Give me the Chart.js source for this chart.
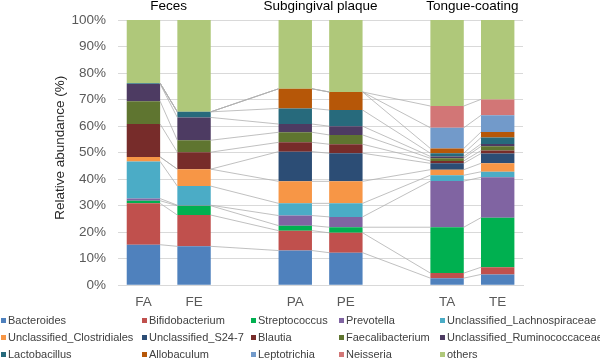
<!DOCTYPE html>
<html>
<head>
<meta charset="utf-8">
<script src="https://cdn.jsdelivr.net/npm/chart.js@4/dist/chart.umd.min.js"></script>
<style>
  html, body { margin: 0; padding: 0; background: #fff; }
  #wrap { position: relative; width: 600px; height: 360px; font-family: "Liberation Sans", Arial, sans-serif; }
  #c { position: absolute; left: 0; top: 0; }
  .lg { position: absolute; font-size: 11px; color: #404040; white-space: nowrap; line-height: 13px; }
  .lg i { position: absolute; width: 5px; height: 5px; top: 4px; }
  .lg span { position: absolute; left: 7px; top: 0; }
</style>
</head>
<body>
<div id="wrap">
  <canvas id="c" width="600" height="360"></canvas>
</div>
<script>
// ---- data ----
const categories = ['FA', 'FE', '', 'PA', 'PE', '', 'TA', 'TE'];
const groupTitles = ['Feces', 'Subgingival plaque', 'Tongue-coating'];
const groupMembers = [[0, 1], [3, 4], [6, 7]];
const yTicks = [0, 10, 20, 30, 40, 50, 60, 70, 80, 90, 100];
const yTitle = 'Relative abundance (%)';

const seriesNames = ['Bacteroides', 'Bifidobacterium', 'Streptococcus', 'Prevotella', 'Unclassified_Lachnospiraceae',
  'Unclassified_Clostridiales', 'Unclassified_S24-7', 'Blautia', 'Faecalibacterium', 'Unclassified_Ruminococcaceae',
  'Lactobacillus', 'Allobaculum', 'Leptotrichia', 'Neisseria', 'others'];

const bacteroides      = [15.3, 14.7, null, 13.1, 12.3, null, 2.7, 4.1];
const bifidobacterium  = [15.6, 11.8, null, 7.5, 7.5, null, 1.9, 2.7];
const streptococcus    = [1.0, 3.5, null, 1.9, 2.1, null, 17.3, 18.7];
const prevotella       = [0.8, 0.2, null, 3.8, 3.9, null, 17.4, 15.2];
const lachnospiraceae  = [14.0, 7.2, null, 4.6, 5.1, null, 2.2, 2.1];
const clostridiales    = [1.7, 6.4, null, 8.3, 8.3, null, 2.1, 3.2];
const s24_7            = [0, 0, null, 11.2, 10.6, null, 2.4, 3.7];
const blautia          = [12.4, 6.4, null, 3.5, 3.4, null, 0.9, 1.1];
const faecalibacterium = [8.6, 4.5, null, 3.8, 3.5, null, 1.0, 1.6];
const ruminococcaceae  = [6.5, 8.6, null, 3.1, 3.3, null, 0.7, 0.9];
const lactobacillus    = [0.3, 2.1, null, 5.9, 6.1, null, 1.2, 2.4];
const allobaculum      = [0, 0, null, 7.4, 6.8, null, 1.8, 2.1];
const leptotrichia     = [0, 0, null, 0, 0, null, 7.8, 6.3];
const neisseria        = [0, 0, null, 0, 0, null, 8.2, 6.0];
const others           = [23.8, 34.6, null, 25.9, 27.1, null, 32.4, 29.9];

const seriesValues = [bacteroides, bifidobacterium, streptococcus, prevotella, lachnospiraceae,
  clostridiales, s24_7, blautia, faecalibacterium, ruminococcaceae,
  lactobacillus, allobaculum, leptotrichia, neisseria, others];

const seriesColors = ['#4F81BD', '#C0504D', '#00B050', '#8064A2', '#4BACC6',
  '#F79646', '#2C4D75', '#772C2A', '#5F7530', '#4D3B62',
  '#276A7C', '#B65708', '#729ACA', '#D27676', '#AFC87A'];

const FONT = '"Liberation Sans", Arial, sans-serif';

// connector lines between adjacent bars
const connectors = {
  id: 'connectors',
  afterDatasetsDraw(chart) {
    const ctx = chart.ctx;
    const idx = categories.map((c, i) => c ? i : -1).filter(i => i >= 0);
    ctx.save();
    ctx.strokeStyle = '#B0B0B0';
    ctx.lineWidth = 0.8;
    const n = chart.data.datasets.length;
    for (let d = 0; d < n - 1; d++) {
      const meta = chart.getDatasetMeta(d);
      for (let k = 0; k < idx.length - 1; k++) {
        const a = meta.data[idx[k]], b = meta.data[idx[k + 1]];
        ctx.beginPath();
        ctx.moveTo(a.x + a.width / 2, a.y);
        ctx.lineTo(b.x - b.width / 2, b.y);
        ctx.stroke();
      }
    }
    ctx.restore();
  }
};

// group titles above the bars + y axis title
const groupLabels = {
  id: 'groupLabels',
  afterDraw(chart) {
    const ctx = chart.ctx, x = chart.scales.x, area = chart.chartArea;
    ctx.save();
    ctx.fillStyle = '#000000';
    ctx.font = '13.5px ' + FONT;
    ctx.textAlign = 'center';
    ctx.textBaseline = 'middle';
    groupTitles.forEach((t, g) => {
      const m = groupMembers[g];
      const cx = (x.getPixelForValue(m[0]) + x.getPixelForValue(m[1])) / 2;
      ctx.fillText(t, cx, 6);
    });
    ctx.fillStyle = '#262626';
    ctx.translate(60, (area.top + area.bottom) / 2 - 5);
    ctx.rotate(-Math.PI / 2);
    ctx.fillText(yTitle, 0, 0);
    ctx.restore();
  }
};

const chart = new Chart(document.getElementById('c'), {
  type: 'bar',
  data: {
    labels: categories,
    datasets: seriesNames.map((name, i) => ({
      label: name,
      data: seriesValues[i],
      backgroundColor: seriesColors[i],
      borderWidth: 0,
      barPercentage: 0.66,
      categoryPercentage: 1.0
    }))
  },
  options: {
    responsive: false,
    animation: false,
    layout: { padding: { left: 59.6, right: 77, top: 13, bottom: 40.5 } },
    plugins: { legend: { display: false }, tooltip: { enabled: false } },
    scales: {
      x: {
        stacked: true,
        grid: { display: false, drawTicks: false },
        border: { display: true, color: '#D9D9D9' },
        ticks: { color: '#595959', font: { family: FONT, size: 13.5 }, padding: 9, maxRotation: 0, autoSkip: false }
      },
      y: {
        stacked: true,
        min: 0, max: 100,
        afterBuildTicks(scale) { scale.ticks = yTicks.map(v => ({ value: v })); },
        grid: { color: '#D9D9D9', drawTicks: false },
        border: { display: false },
        ticks: { color: '#595959', font: { family: FONT, size: 13.5 }, padding: 12, callback: v => v + '%' }
      }
    }
  },
  plugins: [connectors, groupLabels]
});

// legend (5 columns x 3 rows)
const colX = [1, 142, 251, 339, 440];
const rowY = [314, 331, 348];
const wrap = document.getElementById('wrap');
chart.data.datasets.forEach((ds, i) => {
  const d = document.createElement('div');
  d.className = 'lg';
  d.style.left = colX[i % 5] + 'px';
  d.style.top = rowY[Math.floor(i / 5)] + 'px';
  const sw = document.createElement('i');
  sw.style.background = ds.backgroundColor;
  const sp = document.createElement('span');
  sp.textContent = ds.label;
  d.appendChild(sw); d.appendChild(sp);
  wrap.appendChild(d);
});
</script>
</body>
</html>
